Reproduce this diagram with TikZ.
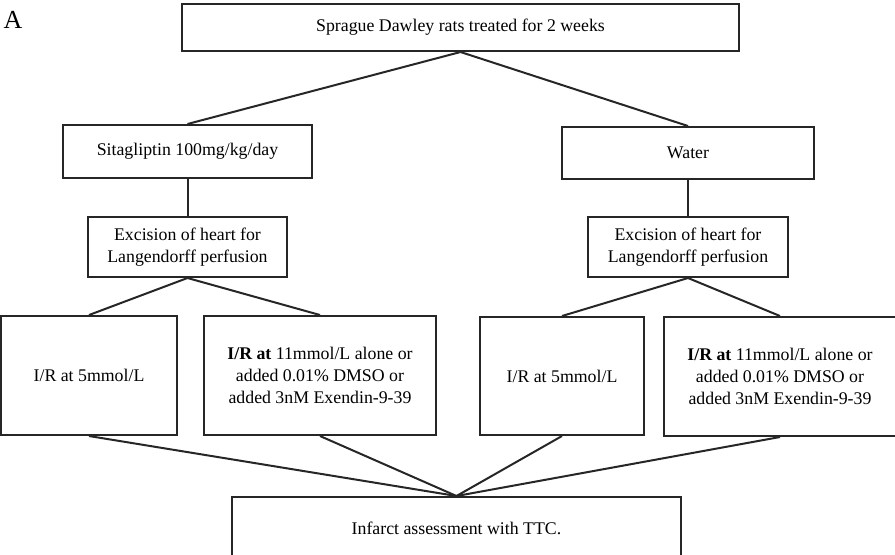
\documentclass[tikz,border=0pt]{standalone}
\usepackage{fontspec}
\setmainfont{Liberation Serif}
\tikzset{
	stepbox/.style={draw=black!85, line width=1pt, align=center, inner sep=0pt, font=\fontsize{8.9}{11}\selectfont},
	link/.style={draw=black!85, line width=1pt}
}
\begin{document}
\begin{tikzpicture}[x=0.5pt, y=-0.5pt]
			\clip (0,0) rectangle (895,554);
			\node[font=\fontsize{13}{14}\selectfont] (lbl) at (13,20) {A};
			
			\node[stepbox, minimum width=278.5pt, minimum height=23.5pt] (rats) at (460.5,27.5) {Sprague Dawley rats treated for 2 weeks};
			
			\node[stepbox, minimum width=124.5pt, minimum height=26.5pt] (sita) at (187.5,151.5) {Sitagliptin 100mg/kg/day};
			\node[stepbox, minimum width=126pt, minimum height=26pt] (water) at (688,153) {Water};
			
			\node[stepbox, minimum width=99.5pt, minimum height=30pt] (excl) at (187.5,247) {Excision of heart for\\Langendorff perfusion};
			\node[stepbox, minimum width=100pt, minimum height=30pt] (excr) at (688,247) {Excision of heart for\\Langendorff perfusion};
			
			\node[stepbox, minimum width=88pt, minimum height=59.5pt] (irla) at (89,375.5) {I/R at 5mmol/L};
			\node[stepbox, minimum width=116pt, minimum height=59.5pt] (irlb) at (320,375.5) {\textbf{I/R at} 11mmol/L alone or\\added 0.01\% DMSO or\\added 3nM Exendin-9-39};
			\node[stepbox, minimum width=82pt, minimum height=59pt] (irra) at (562,376) {I/R at 5mmol/L};
			\node[stepbox, minimum width=116pt, minimum height=59.5pt] (irrb) at (780,376.5) {\textbf{I/R at} 11mmol/L alone or\\added 0.01\% DMSO or\\added 3nM Exendin-9-39};
			
			\node[stepbox, minimum width=224.5pt, minimum height=31.5pt] (ttc) at (456.5,528.5) {Infarct assessment with TTC.};
			
			\draw[link] (rats.south) -- (sita.north);
			\draw[link] (rats.south) -- (water.north);
			\draw[link] (sita.south) -- (excl.north);
			\draw[link] (water.south) -- (excr.north);
			\draw[link] (excl.south) -- (irla.north);
			\draw[link] (excl.south) -- (irlb.north);
			\draw[link] (excr.south) -- (irra.north);
			\draw[link] (excr.south) -- (irrb.north);
			\draw[link] (irla.south) -- (ttc.north);
			\draw[link] (irlb.south) -- (ttc.north);
			\draw[link] (irra.south) -- (ttc.north);
			\draw[link] (irrb.south) -- (ttc.north);
		\end{tikzpicture}
\end{document}
